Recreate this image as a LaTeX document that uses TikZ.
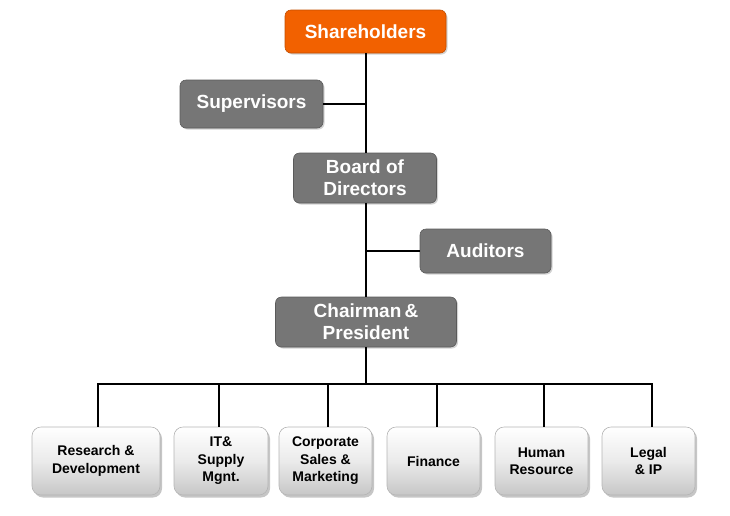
\documentclass[tikz,border=0pt]{standalone}
\usepackage{fontspec}
\setmainfont{Liberation Sans}
\usetikzlibrary{shadows}
\definecolor{orgfill}{HTML}{F26100}
\definecolor{grayfill}{HTML}{767676}
\definecolor{grayline}{HTML}{5A5A5A}
\definecolor{deptline}{HTML}{B4B4B4}
\tikzset{
  topbox/.style={rounded corners=6pt, fill=orgfill, draw=orgfill!80!black, line width=0.6pt,
    text=white, font=\fontsize{19}{22}\selectfont\bfseries, align=center,
    inner sep=0pt, drop shadow={shadow xshift=1.5pt, shadow yshift=-1.5pt, opacity=0.35}},
  graybox/.style={rounded corners=6pt, fill=grayfill, draw=grayline, line width=0.6pt,
    text=white, font=\fontsize{19}{22}\selectfont\bfseries, align=center,
    inner sep=0pt, drop shadow={shadow xshift=1.5pt, shadow yshift=-1.5pt, opacity=0.35}},
  deptbox/.style={rounded corners=9pt, top color=white, bottom color=black!22, middle color=black!8,
    draw=deptline, line width=0.6pt, text=black,
    font=\fontsize{14}{17.5}\selectfont\bfseries, align=center,
    minimum height=68pt, inner sep=0pt,
    drop shadow={shadow xshift=2pt, shadow yshift=-2.5pt, opacity=0.45}},
  link/.style={line width=2pt, black}
}
\begin{document}
\begin{tikzpicture}[x=1pt,y=-1pt]
\useasboundingbox (0,0) rectangle (730,515);
\node[topbox, minimum width=161pt, minimum height=43pt] (sh) at (365.5,31.5) {Shareholders};
\node[graybox, minimum width=143pt, minimum height=48pt] (sup) at (251.5,104) {Supervisors};
\node[graybox, minimum width=143pt, minimum height=50pt] (bod) at (365,178) {Board of\\Directors};
\node[graybox, minimum width=131pt, minimum height=44pt] (aud) at (485.5,251) {Auditors};
\node[graybox, minimum width=181pt, minimum height=50pt] (ch) at (366,322) {Chairman\,\&\\President};

\node[deptbox, minimum width=128pt] (rd) at (96,461) {Research \&\\Development};
\node[deptbox, minimum width=94pt] (it) at (221,461) {IT\&\\Supply\\Mgnt.};
\node[deptbox, minimum width=93pt] (cs) at (325.5,461) {Corporate\\Sales \&\\Marketing};
\node[deptbox, minimum width=93pt] (fin) at (433.5,461) {Finance};
\node[deptbox, minimum width=93pt] (hr) at (541.5,461) {Human\\Resource};
\node[deptbox, minimum width=93pt] (lg) at (648.5,461) {Legal\\\& IP};

\begin{scope}[on background layer/.try]
\end{scope}
\coordinate (bus) at (366,384);
\draw[link] (sh.south -| 366,0) -- (bod.north -| 366,0);
\draw[link] (sup.east) -- (sup.east -| 366,0);
\draw[link] (bod.south -| 366,0) -- (ch.north -| 366,0);
\draw[link] (aud.west) -- (aud.west -| 366,0);
\draw[link] (ch.south -| 366,0) -- (bus);
\draw[link] ([xshift=2pt]rd.north) |- (bus);
\draw[link] (bus) -| ([xshift=3pt]lg.north);
\draw[link] ([xshift=-2pt]it.north) -- ([xshift=-2pt]it.north |- bus);
\draw[link] ([xshift=2.5pt]cs.north) -- ([xshift=2.5pt]cs.north |- bus);
\draw[link] ([xshift=3.5pt]fin.north) -- ([xshift=3.5pt]fin.north |- bus);
\draw[link] ([xshift=2.5pt]hr.north) -- ([xshift=2.5pt]hr.north |- bus);
\end{tikzpicture}
\end{document}
